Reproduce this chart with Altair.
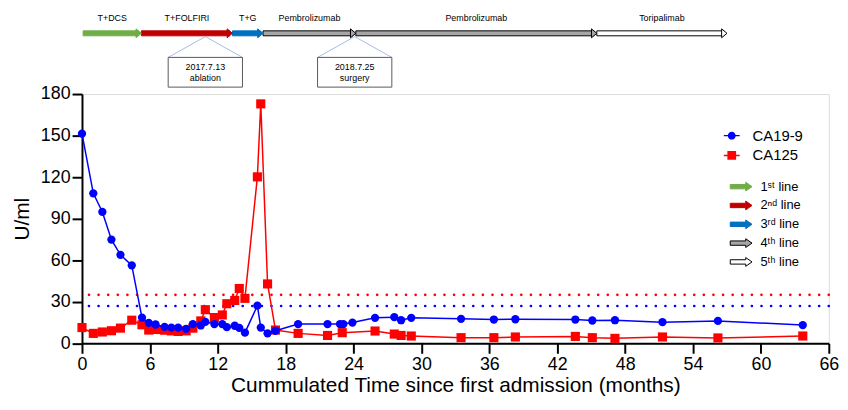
import altair as alt
import pandas as pd

FONT = "Liberation Sans"

# ---------------- data ----------------
ca199_month = [0, 1.0, 1.8, 2.6, 3.4, 4.4, 5.3, 5.9, 6.5, 7.3, 7.9, 8.5, 9.2, 9.8, 10.5,
               10.9, 11.7, 12.4, 12.8, 13.5, 13.9, 14.4, 15.5, 15.8, 16.4, 17.1, 19.1,
               21.7, 22.8, 23.1, 23.9, 25.9, 27.6, 28.2, 29.1, 33.5, 36.4, 38.3, 43.6,
               45.1, 47.1, 51.3, 56.2, 63.7]
ca199_value = [151.4, 108.3, 94.9, 74.9, 63.9, 56.3, 18.6, 14.8, 13.6, 11.9, 11.4, 11.4,
               10.5, 13.9, 12.9, 15.5, 13.9, 13.9, 11.7, 12.7, 11.2, 7.7, 27.2, 11.4, 7.2,
               9.1, 13.9, 13.9, 13.9, 13.9, 15.0, 18.4, 18.9, 16.7, 18.4, 17.7, 17.2, 17.4,
               17.2, 16.5, 16.7, 15.3, 16.2, 13.2]

ca125_month = [0, 1.0, 1.8, 2.6, 3.4, 4.4, 5.3, 5.9, 6.5, 7.3, 7.9, 8.5, 9.2, 9.8, 10.5,
               10.9, 11.7, 12.4, 12.8, 13.5, 13.9, 14.4, 15.5, 15.8, 16.4, 17.1, 19.1,
               21.7, 23.0, 25.9, 27.6, 28.2, 29.1, 33.5, 36.4, 38.3, 43.6, 45.1, 47.1,
               51.3, 56.2, 63.7]
ca125_value = [11.4, 7.2, 8.2, 9.1, 11.0, 16.7, 13.4, 9.6, 10.0, 9.5, 9.0, 8.6, 9.0, 11.0,
               16.2, 24.3, 18.6, 20.5, 28.6, 31.0, 39.6, 32.5, 120.2, 172.9, 42.9, 9.6, 7.2,
               5.7, 7.7, 8.9, 6.7, 5.7, 5.3, 4.1, 4.1, 4.6, 5.0, 4.1, 3.6, 4.6, 3.9, 5.3]

series_names = ["CA19-9", "CA125"]
series_colors = ["#0000ff", "#ff0000"]
ref_values = [27, 35]

x_ticks = list(range(0, 67, 6))
y_ticks = list(range(0, 181, 30))

# treatment timeline
seg_start = [0.1, 5.25, 13.3, 16.0, 24.2, 45.5]
seg_end = [5.25, 13.3, 16.0, 24.2, 45.5, 57.0]
seg_drug = ["T+DCS", "T+FOLFIRI", "T+G", "Pembrolizumab", "Pembrolizumab", "Toripalimab"]
seg_line = ["1ˢᵗ line", "2ⁿᵈ line", "3ʳᵈ line", "4ᵗʰ line", "4ᵗʰ line", "5ᵗʰ line"]

line_names = ["1ˢᵗ line", "2ⁿᵈ line", "3ʳᵈ line", "4ᵗʰ line", "5ᵗʰ line"]
line_fill = ["#70ad47", "#c00000", "#0070c0", "#a6a6a6", "#ffffff"]
line_stroke = ["#70ad47", "#c00000", "#0070c0", "#000000", "#000000"]

event_month = [10.9, 24.1]
event_date = ["2017.7.13", "2018.7.25"]
event_name = ["ablation", "surgery"]

# ---------------- shapes ----------------
CIRCLE_LINE = ("M -1 -0.09 L 1 -0.09 L 1 0.09 L -1 0.09 Z "
               "M 0.5 0 A 0.5 0.5 0 1 1 -0.5 0 A 0.5 0.5 0 1 1 0.5 0 Z")
SQUARE_LINE = ("M -1 -0.09 L 1 -0.09 L 1 0.09 L -1 0.09 Z "
               "M -0.55 -0.55 L 0.55 -0.55 L 0.55 0.55 L -0.55 0.55 Z")
ARROW = "M -1 -0.2 L 0.42 -0.2 L 0.42 -0.4 L 1 0 L 0.42 0.4 L 0.42 0.2 L -1 0.2 Z"
HEAD = "M -1.2 -1 L 0 0 L -1.2 1 Z"
BOX = "M -1 -0.4 L 1 -0.4 L 1 0.4 L -1 0.4 Z"

x_scale = alt.Scale(domain=[0, 66], nice=False, zero=False)
y_scale = alt.Scale(domain=[0, 180], nice=False)

x_axis = alt.Axis(values=x_ticks, title="Cummulated Time since first admission (months)",
                  titleFontSize=21, titleFontWeight="normal", labelFontSize=18,
                  tickSize=10, tickWidth=2, domainWidth=2, domainColor="black",
                  tickColor="black", labelColor="black", titleColor="black",
                  grid=False, labelPadding=2, titlePadding=1.5, labelFlush=False,
                  labelFont=FONT, titleFont=FONT)
y_axis = alt.Axis(values=y_ticks, title="U/ml", titleFontSize=21, titleFontWeight="normal",
                  labelFontSize=18, tickSize=10, tickWidth=2, domainWidth=2,
                  domainColor="black", tickColor="black", labelColor="black",
                  titleColor="black", grid=False, labelPadding=2, titlePadding=8,
                  labelFont=FONT, titleFont=FONT)

X = alt.X("month:Q", scale=x_scale, axis=x_axis)
Y = alt.Y("value:Q", scale=y_scale, axis=y_axis)

layers = []

# reference (dotted) lines
ref_df = pd.DataFrame({"series": series_names, "ref": ref_values})
for name, color in zip(series_names, series_colors):
    layers.append(
        alt.Chart(ref_df).transform_filter(alt.datum.series == name)
        .mark_rule(color=color, strokeWidth=2.6, strokeDash=[0.1, 9.6], strokeCap="round")
        .encode(y=alt.Y("ref:Q", scale=y_scale, axis=y_axis))
    )

series_data = [
    ("CA125", "#ff0000", ca125_month, ca125_value, "square", 85),
    ("CA19-9", "#0000ff", ca199_month, ca199_value, "circle", 70),
]
for name, color, months, values, shape, size in series_data:
    d = pd.DataFrame({"month": months, "value": values})
    base = alt.Chart(d)
    layers.append(base.mark_line(color=color, strokeWidth=1.5).encode(x=X, y=Y))
    layers.append(base.mark_point(shape=shape, filled=True, color=color, size=size,
                                  opacity=1).encode(x=X, y=Y))

# legend for the two markers (no marks drawn)
leg_series = alt.Legend(orient="none", legendX=648, legendY=34, title=None,
                        labelFontSize=15, labelFont=FONT, labelColor="black",
                        labelOffset=13, rowPadding=4, padding=0, symbolStrokeWidth=0,
                        symbolOpacity=1, symbolSize=256)
series_df = pd.DataFrame({"series": series_names})
layers.append(
    alt.Chart(series_df).transform_filter("false")
    .mark_point(filled=True, opacity=1)
    .encode(
        color=alt.Color("series:N", scale=alt.Scale(domain=series_names, range=series_colors),
                        legend=leg_series),
        shape=alt.Shape("series:N", scale=alt.Scale(domain=series_names,
                                                     range=[CIRCLE_LINE, SQUARE_LINE]),
                        legend=leg_series),
    )
)

# treatment timeline
seg_df = pd.DataFrame({"start": seg_start, "end": seg_end, "drug": seg_drug, "line": seg_line})
leg_line = alt.Legend(orient="none", legendX=654, legendY=82, title=None,
                      labelFontSize=13, labelFont=FONT, labelColor="black",
                      labelOffset=8, rowPadding=-3, padding=0, symbolType=ARROW,
                      symbolSize=484, symbolStrokeWidth=1)
FILL = alt.Fill("line:N", scale=alt.Scale(domain=line_names, range=line_fill), legend=leg_line)
STROKE = alt.Stroke("line:N", scale=alt.Scale(domain=line_names, range=line_stroke),
                    legend=leg_line)

tl = alt.Chart(seg_df)
layers.append(
    tl.mark_rect(strokeWidth=1, x2Offset=-3)
    .encode(x=alt.X("start:Q", scale=x_scale, axis=x_axis), x2="end:Q",
            y=alt.value(-63.8), y2=alt.value(-58.8), fill=FILL, stroke=STROKE)
)
layers.append(
    tl.mark_point(shape=HEAD, filled=True, size=81, strokeWidth=1, opacity=1)
    .encode(x=alt.X("end:Q", scale=x_scale, axis=x_axis), y=alt.value(-61.3),
            fill=FILL, stroke=STROKE)
)
layers.append(
    tl.transform_calculate(mid="(datum.start + datum.end) / 2")
    .mark_text(fontSize=9, font=FONT, color="black", baseline="middle")
    .encode(x=alt.X("mid:Q", scale=x_scale, axis=x_axis), y=alt.value(-77), text="drug:N")
)

# events
evt_df = pd.DataFrame({"month": event_month, "date": event_date, "name": event_name})
ev = alt.Chart(evt_df)
for off in (-37.5, 37.5):
    layers.append(
        ev.mark_rule(color="#8faadc", strokeWidth=0.8, x2Offset=off)
        .encode(x=alt.X("month:Q", scale=x_scale, axis=x_axis), x2="month:Q",
                y=alt.value(-58), y2=alt.value(-37))
    )
layers.append(
    ev.mark_point(shape=BOX, size=5625, filled=True, fill="white", stroke="#595959",
                  strokeWidth=1, opacity=1)
    .encode(x=alt.X("month:Q", scale=x_scale, axis=x_axis), y=alt.value(-22))
)
layers.append(
    ev.mark_text(fontSize=9, font=FONT, color="black", baseline="middle")
    .encode(x=alt.X("month:Q", scale=x_scale, axis=x_axis), y=alt.value(-27.5), text="date:N")
)
layers.append(
    ev.mark_text(fontSize=9, font=FONT, color="black", baseline="middle")
    .encode(x=alt.X("month:Q", scale=x_scale, axis=x_axis), y=alt.value(-16.5), text="name:N")
)

chart = alt.layer(*layers).resolve_scale(color="independent", shape="independent").properties(
    width=754, height=251.7,
    autosize=alt.AutoSizeParams(type="none"),
    padding={"left": 74.7, "top": 85, "right": 11.3, "bottom": 52.3},
).configure_view(stroke=None).configure(font=FONT)

chart.save("out.html", embed_options={"renderer": "svg", "actions": False})
